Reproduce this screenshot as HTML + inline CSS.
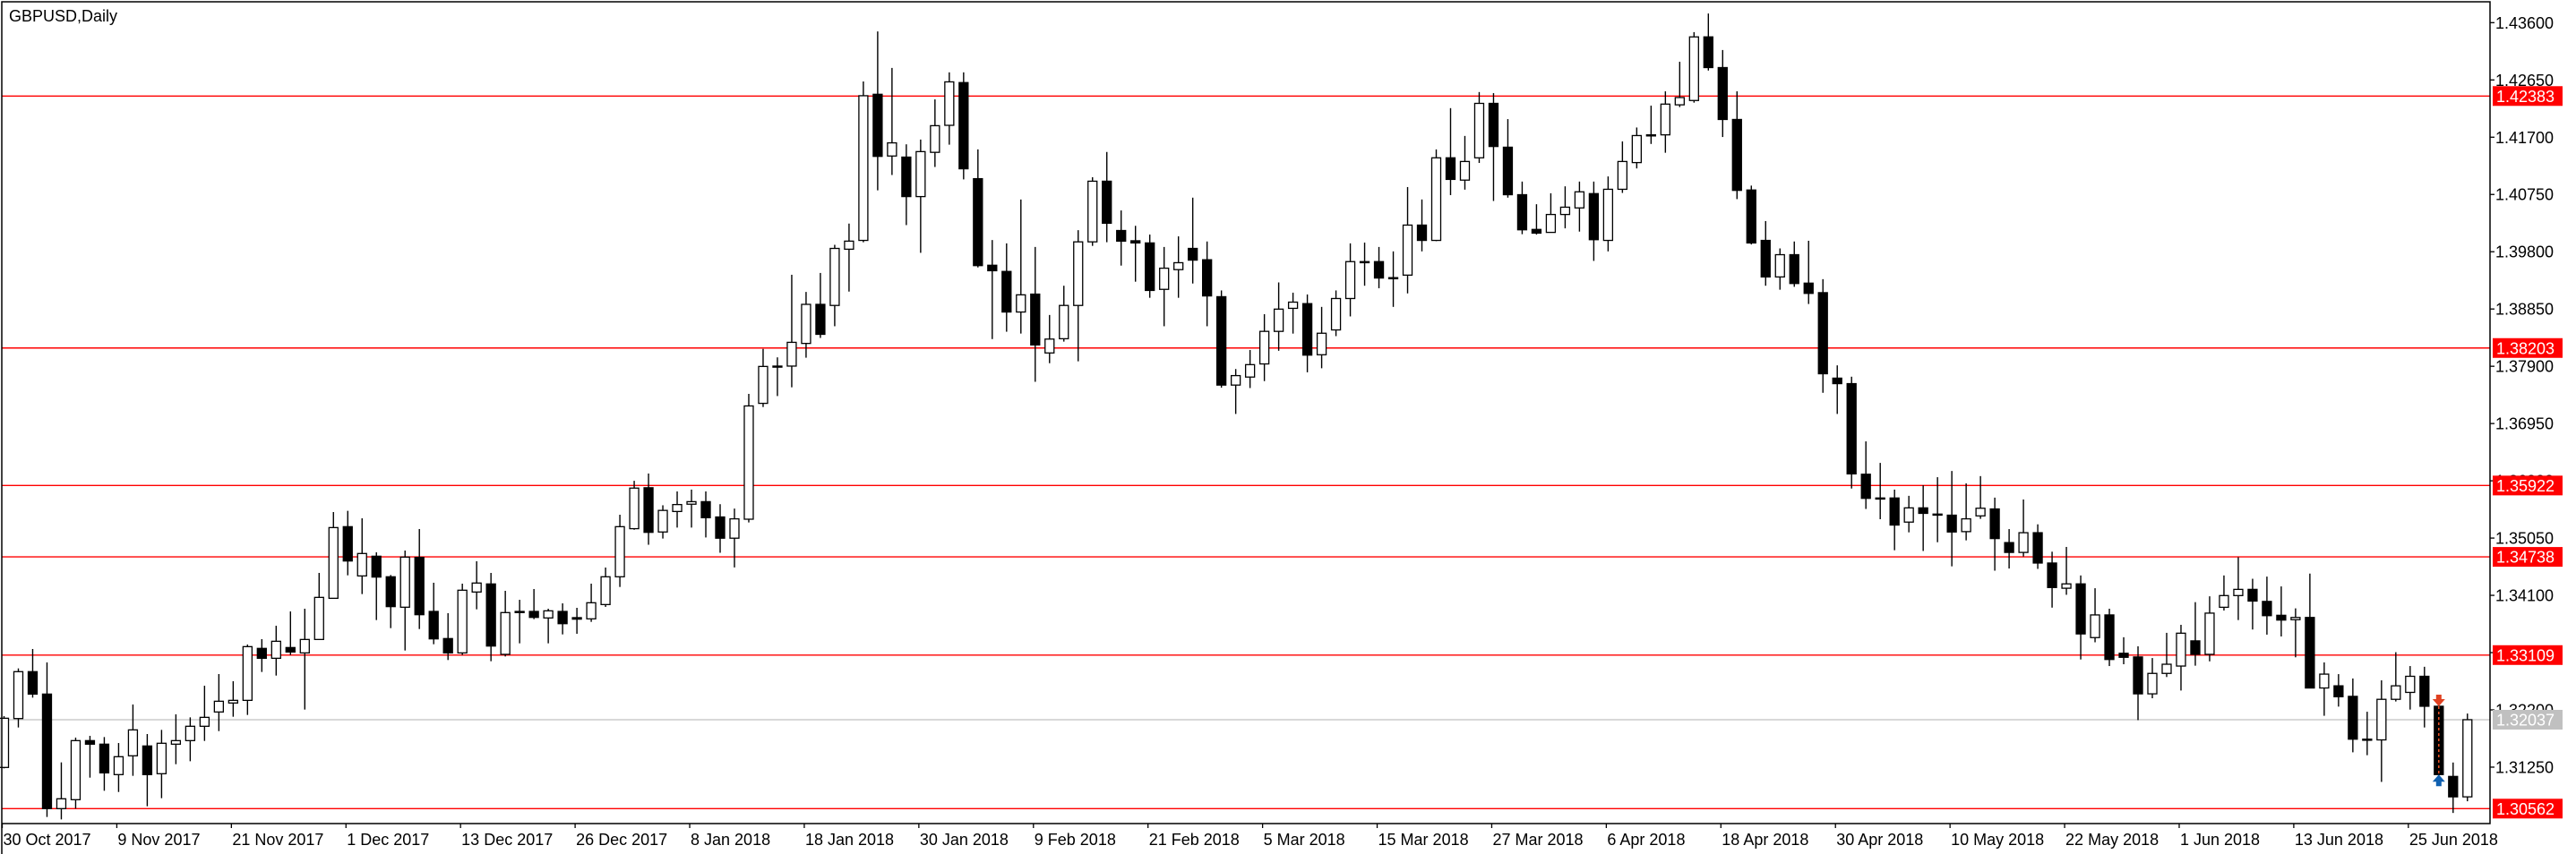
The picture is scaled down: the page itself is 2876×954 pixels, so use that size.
<!DOCTYPE html>
<html><head><meta charset="utf-8"><style>
html,body{margin:0;padding:0;background:#fff;width:2876px;height:954px;overflow:hidden}
svg{display:block}
text{font-family:"Liberation Sans",sans-serif;font-size:18px}
</style></head><body>
<svg id="chart" width="2876" height="954" xmlns="http://www.w3.org/2000/svg">
<rect x="0" y="0" width="2876" height="954" fill="#fff"/>
<text x="10" y="24" fill="#000">GBPUSD,Daily</text>
<g id="levels"></g><g id="candles"></g><g id="axes"></g>
</svg>
<script>
const opens=[1.31245,1.32056,1.32834,1.32462,1.30562,1.3071,1.3169,1.31631,1.31126,1.31438,1.31601,1.31141,1.31631,1.3169,1.31928,1.32165,1.32314,1.32358,1.3322,1.33056,1.33234,1.33145,1.33368,1.34051,1.35239,1.34422,1.34749,1.34408,1.33903,1.34729,1.33833,1.33383,1.33145,1.34155,1.34289,1.33121,1.33833,1.33833,1.33725,1.33833,1.3373,1.3371,1.33947,1.34408,
1.35206,1.35885,1.35151,1.35491,1.35612,1.35654,1.354,1.35048,1.35363,1.37285,1.37903,1.37903,1.38279,1.38927,1.38909,1.39842,1.39988,1.42412,1.41388,1.4137,1.40715,1.41449,1.41897,1.42606,1.41012,1.39576,1.39473,1.388,1.39097,1.38121,1.38357,1.38909,1.39964,1.4097,1.40152,1.39982,1.39946,1.39176,1.39503,1.39855,1.39667,1.39054,1.37588,
1.37721,1.37939,1.38479,1.38861,1.38939,1.38091,1.38503,1.39024,1.39636,1.39636,1.3937,1.39412,1.40242,1.39988,1.41358,1.40988,1.41358,1.42261,1.41534,1.40746,1.4017,1.40121,1.40418,1.40527,1.40764,1.39988,1.40836,1.41279,1.41733,1.41739,1.42237,1.42309,1.43364,1.42855,1.41994,1.40824,1.39988,1.39382,1.39751,1.39279,1.39121,1.37703,1.37612,
1.36109,1.35715,1.35715,1.35315,1.35551,1.35448,1.3543,1.35157,1.35418,1.35533,1.34975,1.34812,1.35139,1.34636,1.34218,1.3429,1.33399,1.33775,1.33139,1.33078,1.32466,1.32805,1.32927,1.33345,1.33121,1.33902,1.34096,1.34199,1.33999,1.33769,1.33696,1.33733,1.32563,1.32599,1.32424,1.31714,1.31702,1.32375,1.3249,1.32757,1.3226,1.31096,1.30757];
const highs=[1.32096,1.32888,1.3321,1.32987,1.31329,1.3174,1.31769,1.31749,1.3165,1.32289,1.31799,1.31868,1.32126,1.32076,1.32601,1.32794,1.32675,1.33284,1.33373,1.33596,1.33833,1.33878,1.34472,1.35482,1.35502,1.35378,1.34814,1.34437,1.34843,1.352,1.34309,1.33804,1.34294,1.34665,1.34472,1.34175,1.34026,1.34205,1.33878,1.33967,1.33893,1.34294,1.34561,1.35437,
1.36,1.36121,1.35594,1.35824,1.35854,1.35824,1.35612,1.35539,1.37442,1.38188,1.38048,1.39418,1.39133,1.39448,1.39915,1.40267,1.42624,1.43455,1.42849,1.41582,1.41661,1.42327,1.42776,1.42776,1.41497,1.39994,1.39939,1.40667,1.39879,1.38751,1.39236,1.40158,1.41036,1.41455,1.40485,1.4023,1.40085,1.39879,1.40055,1.40697,1.3997,1.39158,1.37854,
1.3817,1.38764,1.39291,1.39121,1.39091,1.38885,1.39158,1.39939,1.39952,1.39879,1.39806,1.40873,1.40667,1.41497,1.42182,1.41721,1.42449,1.42431,1.42,1.40964,1.40588,1.4077,1.40885,1.40964,1.40964,1.41049,1.4163,1.41861,1.42224,1.42461,1.42952,1.43443,1.43752,1.43146,1.42461,1.40897,1.40309,1.39855,1.3997,1.39982,1.39345,1.37915,1.37727,
1.36654,1.36297,1.35854,1.35751,1.35927,1.3606,1.36163,1.35957,1.36078,1.35721,1.35199,1.3569,1.35278,1.34824,1.34903,1.3443,1.34218,1.33878,1.33405,1.33254,1.3306,1.33478,1.33611,1.33987,1.34084,1.3443,1.34733,1.34375,1.34411,1.34248,1.33884,1.3446,1.32987,1.32793,1.32721,1.32169,1.3269,1.33157,1.32927,1.32915,1.3226,1.31327,1.32139];
const lows=[1.3123,1.31908,1.32403,1.30423,1.30383,1.30562,1.31076,1.30858,1.30838,1.31106,1.30601,1.30735,1.31299,1.31348,1.31685,1.31848,1.32086,1.32116,1.32829,1.32769,1.33111,1.32205,1.33368,1.34051,1.34432,1.34121,1.3369,1.33556,1.33185,1.33541,1.33289,1.33027,1.3311,1.33868,1.33007,1.33086,1.33304,1.33705,1.33304,1.33452,1.33462,1.3366,1.33908,1.34239,
1.35188,1.34939,1.35042,1.35224,1.35224,1.3506,1.34806,1.34563,1.35309,1.37224,1.37406,1.37551,1.38042,1.3837,1.38564,1.39139,1.39958,1.40818,1.41073,1.40242,1.39782,1.41206,1.41576,1.41,1.39539,1.38351,1.38473,1.38442,1.37642,1.37951,1.38309,1.37982,1.39897,1.39958,1.3957,1.39303,1.39036,1.38564,1.39036,1.39273,1.38564,1.37545,1.37109,
1.37539,1.37654,1.38157,1.38442,1.378,1.37867,1.384,1.38727,1.39236,1.39194,1.38885,1.39109,1.39806,1.39976,1.40739,1.4083,1.41273,1.40642,1.40697,1.40091,1.40085,1.40121,1.40188,1.40134,1.39648,1.39806,1.40776,1.41182,1.41588,1.41442,1.422,1.42273,1.42806,1.41703,1.40673,1.39921,1.39236,1.3917,1.39218,1.38933,1.3746,1.37109,1.35872,
1.35533,1.35363,1.34848,1.35145,1.34836,1.34981,1.34581,1.35012,1.35369,1.34509,1.34545,1.34745,1.34539,1.33896,1.34109,1.33036,1.33321,1.32927,1.32957,1.3203,1.32393,1.32745,1.32521,1.32933,1.33005,1.33848,1.3369,1.33533,1.33448,1.33418,1.33072,1.32563,1.32102,1.32254,1.31496,1.31448,1.31005,1.32339,1.32205,1.31908,1.31096,1.3049,1.30684];
const closes=[1.32061,1.32834,1.32462,1.30562,1.30725,1.3169,1.31631,1.31155,1.31423,1.31868,1.31126,1.31646,1.3169,1.31928,1.32076,1.32343,1.32358,1.33249,1.33056,1.33338,1.3316,1.33368,1.34066,1.35224,1.3467,1.34794,1.34403,1.33913,1.34734,1.33779,1.33378,1.33145,1.34185,1.34304,1.33259,1.33814,1.33814,1.33734,1.33843,1.3363,1.33705,1.33977,1.34408,1.35239,
1.35879,1.35145,1.35509,1.35606,1.35654,1.35388,1.35048,1.35369,1.37242,1.37897,1.37903,1.38297,1.38927,1.3843,1.39855,1.39976,1.42388,1.41382,1.41606,1.40715,1.41461,1.41891,1.42618,1.41176,1.3957,1.39485,1.388,1.39085,1.38254,1.38351,1.38909,1.39964,1.4097,1.40273,1.39976,1.39946,1.39158,1.39527,1.39618,1.39661,1.39067,1.37588,1.37745,
1.37927,1.38479,1.38848,1.38964,1.38085,1.38448,1.39024,1.39636,1.3963,1.39364,1.39358,1.40242,1.39988,1.41358,1.41,1.41297,1.42261,1.41546,1.40746,1.40164,1.40109,1.40418,1.40539,1.40794,1.4,1.40836,1.41297,1.41727,1.41739,1.42249,1.42358,1.43364,1.42855,1.41994,1.40818,1.39946,1.39382,1.39751,1.39273,1.39109,1.37776,1.37612,1.36115,
1.35709,1.35709,1.35266,1.35551,1.3546,1.35448,1.35151,1.35369,1.35545,1.35042,1.34812,1.35139,1.34636,1.3423,1.3429,1.3346,1.33775,1.33036,1.33072,1.32466,1.32805,1.32957,1.33472,1.33121,1.33805,1.34096,1.34199,1.34005,1.33763,1.3369,1.33733,1.32563,1.32793,1.32418,1.31714,1.31714,1.32375,1.32599,1.32757,1.3226,1.31127,1.30757,1.32037];
const levelValues=[1.42383,1.38203,1.35922,1.34738,1.33109,1.30562];
const priceTicks=[1.43600,1.42650,1.41700,1.40750,1.39800,1.38850,1.37900,1.36950,1.36000,1.35050,1.34100,1.33150,1.32200,1.31250];
const dateLabels=["30 Oct 2017","9 Nov 2017","21 Nov 2017","1 Dec 2017","13 Dec 2017","26 Dec 2017","8 Jan 2018","18 Jan 2018","30 Jan 2018","9 Feb 2018","21 Feb 2018","5 Mar 2018","15 Mar 2018","27 Mar 2018","6 Apr 2018","18 Apr 2018","30 Apr 2018","10 May 2018","22 May 2018","1 Jun 2018","13 Jun 2018","25 Jun 2018"];
const lastPrice=1.32037;

const NS="http://www.w3.org/2000/svg";
const AX=2780, BOT=920;
function yOf(p){return 903.3-(p-1.30562)/0.0001485;}
function xOf(i){return 4.5+15.99*i;}
function mk(tag,attrs,parent){const e=document.createElementNS(NS,tag);for(const k in attrs)e.setAttribute(k,attrs[k]);parent.appendChild(e);return e;}
const gL=document.getElementById('levels'),gC=document.getElementById('candles'),gA=document.getElementById('axes');

let gl=mk('line',{x1:2,x2:AX,y1:yOf(lastPrice),y2:yOf(lastPrice),stroke:'#c0c0c0','stroke-width':1.3},gL);


levelValues.forEach(v=>{
  const l=mk('line',{x1:2,x2:AX,y1:yOf(v),y2:yOf(v),stroke:'#ff0000','stroke-width':1.4},gL);
  
  
});

for(let i=0;i<opens.length;i++){
  const x=xOf(i),o=opens[i],c=closes[i];
  const bull=c>=o;
  const g=mk('g',{},gC);
  
  
  mk('line',{x1:x,x2:x,y1:yOf(highs[i]),y2:yOf(lows[i]),stroke:'#000','stroke-width':1.4},g);
  const top=yOf(Math.max(o,c)),bot=yOf(Math.min(o,c));
  mk('rect',{x:x-5,y:top,width:10,height:Math.max(bot-top,1.2),fill:bull?'#fff':'#000',stroke:'#000','stroke-width':1.3},g);
}
(function(){
  const i=170,x=xOf(i),yt=yOf(opens[i]),yb=yOf(closes[i]);
  const d=mk('line',{x1:x,x2:x,y1:yt,y2:yb,stroke:'#ff5a28','stroke-width':1.4,'stroke-dasharray':'3,3'},gC);
  
  
  const a=mk('path',{d:`M${x-7},${yt-8} h4 v-5 h6 v5 h4 l-7,8 z`,fill:'#e04020'},gC);
  
  
  const b=mk('path',{d:`M${x-7},${yb+8} h4 v5 h6 v-5 h4 l-7,-8 z`,fill:'#1060b0'},gC);
  
  
})();

let fr=mk('path',{d:`M2,954 V2 H${AX} V${BOT} H2`,fill:'none',stroke:'#000','stroke-width':1.5},gA);


priceTicks.forEach(p=>{
  const y=yOf(p);
  mk('line',{x1:AX,x2:AX+5,y1:y,y2:y,stroke:'#000','stroke-width':1.3},gA);
  const t=mk('text',{x:AX+6,y:y+6.5,fill:'#000'},gA);
  t.textContent=p.toFixed(5);
  
  
});
levelValues.concat([lastPrice]).forEach((v,k)=>{
  const y=yOf(v);
  const isLast=k===levelValues.length;
  const r=mk('rect',{x:AX+3,y:y-11,width:78,height:22,fill:isLast?'#c0c0c0':'#ff0000'},gA);
  
  
  const t=mk('text',{x:AX+7,y:y+6.5,fill:'#fff'},gA);
  t.textContent=v.toFixed(5);
  
  
});
dateLabels.forEach((s,k)=>{
  const x=xOf(k*8)-2;
  mk('line',{x1:x,x2:x,y1:BOT,y2:BOT+5,stroke:'#000','stroke-width':1.3},gA);
  const t=mk('text',{x:x+1,y:944,fill:'#000'},gA);
  t.textContent=s;
  
  
});
</script>
</body></html>
